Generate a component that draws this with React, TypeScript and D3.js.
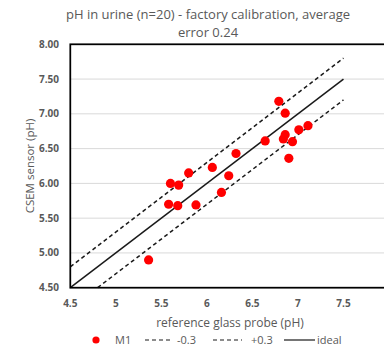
import React from "react";
import * as d3 from "d3";

const refPH = [5.36, 5.60, 5.69, 5.80, 5.58, 5.68, 5.88, 6.06, 6.16, 6.24, 6.32, 6.79, 6.86, 6.64, 6.86, 6.84, 6.94, 7.01, 7.11, 6.90];
const sensorPH = [4.90, 6.00, 5.975, 6.15, 5.70, 5.68, 5.69, 6.23, 5.87, 6.11, 6.43, 7.18, 7.01, 6.61, 6.70, 6.64, 6.60, 6.77, 6.83, 6.36];
const xTicks = [4.5, 5, 5.5, 6, 6.5, 7, 7.5, 8];
const yTicks = [4.5, 5, 5.5, 6, 6.5, 7, 7.5, 8];
const lineX = [4.5, 7.5];
const offsets = { minus: -0.3, plus: 0.3, ideal: 0 };
const titleLines = ["pH in urine (n=20) - factory calibration, average", "error 0.24"];

export default function App() {
  const W = 384, H = 349;
  const left = 70.3, right = 389, top = 44.3, bottom = 287.7;
  const x = d3.scaleLinear().domain([4.5, 8]).range([left, right]);
  const y = d3.scaleLinear().domain([4.5, 8]).range([bottom, top]);
  const gray = "#595959";
  const font = "'Open Sans', 'Liberation Sans', sans-serif";

  const lineFor = (off: number) => {
    const pts = lineX.map((v) => [v, v + off] as [number, number]);
    // clip to y >= 4.5
    const clipped = pts.map(([a, b]) => (b < 4.5 ? [a + (4.5 - b), 4.5] : [a, b]) as [number, number]);
    return d3.line<[number, number]>().x((d) => x(d[0])).y((d) => y(d[1]))(clipped) || "";
  };

  const pts = refPH.map((v, i) => ({ x: v, y: sensorPH[i] }));

  return (
    <svg width={W} height={H} style={{ position: "absolute", left: 0, top: 0, background: "#fff" }} fontFamily={font}>
      <rect width={W} height={H} fill="#fff" />
      {titleLines.map((t, i) => (
        <text key={i} x={208} y={19 + i * 18} textAnchor="middle" fontSize={13} fill={gray}>{t}</text>
      ))}
      {yTicks.map((t) => (
        <line key={"g" + t} x1={left} x2={right} y1={y(t)} y2={y(t)} stroke="#d9d9d9" strokeWidth={1} />
      ))}
      {yTicks.map((t) => (
        <text key={"yl" + t} x={59} y={y(t)} dy="0.35em" textAnchor="end" fontSize={10} fontWeight="bold" fill={gray}>{t.toFixed(2)}</text>
      ))}
      {xTicks.map((t) => (
        <text key={"xl" + t} x={x(t)} y={303} dy="0.35em" textAnchor="middle" fontSize={10} fontWeight="bold" fill={gray}>{String(t)}</text>
      ))}
      <path d={lineFor(offsets.plus)} stroke="#1a1a1a" strokeWidth={1.5} strokeDasharray="4,3" fill="none" />
      <path d={lineFor(offsets.minus)} stroke="#1a1a1a" strokeWidth={1.5} strokeDasharray="4,3" fill="none" />
      <path d={lineFor(offsets.ideal)} stroke="#1a1a1a" strokeWidth={1.5} fill="none" />
      <rect x={left} y={top} width={right - left} height={bottom - top} fill="none" stroke="#000" strokeWidth={1.75} />
      {pts.map((p, i) => (
        <circle key={i} cx={x(p.x)} cy={y(p.y)} r={4.6} fill="#ff0000" />
      ))}
      <text x={30} y={166} transform="rotate(-90 30 166)" textAnchor="middle" dy="0.35em" fontSize={11.5} fill={gray}>CSEM sensor (pH)</text>
      <text x={230} y={323} textAnchor="middle" dy="0.35em" fontSize={12} fill={gray}>reference glass probe (pH)</text>
      <g fontSize={11} fill={gray}>
        <circle cx={96} cy={340} r={3.6} fill="#ff0000" />
        <text x={115} y={340} dy="0.35em">M1</text>
        <line x1={145} x2={173} y1={340} y2={340} stroke="#1a1a1a" strokeWidth={1.2} strokeDasharray="4,3" />
        <text x={177} y={340} dy="0.35em">-0.3</text>
        <line x1={213} x2={242} y1={340} y2={340} stroke="#1a1a1a" strokeWidth={1.2} strokeDasharray="4,3" />
        <text x={251} y={340} dy="0.35em">+0.3</text>
        <line x1={284} x2={315} y1={340} y2={340} stroke="#1a1a1a" strokeWidth={1.2} />
        <text x={317} y={340} dy="0.35em">ideal</text>
      </g>
    </svg>
  );
}
